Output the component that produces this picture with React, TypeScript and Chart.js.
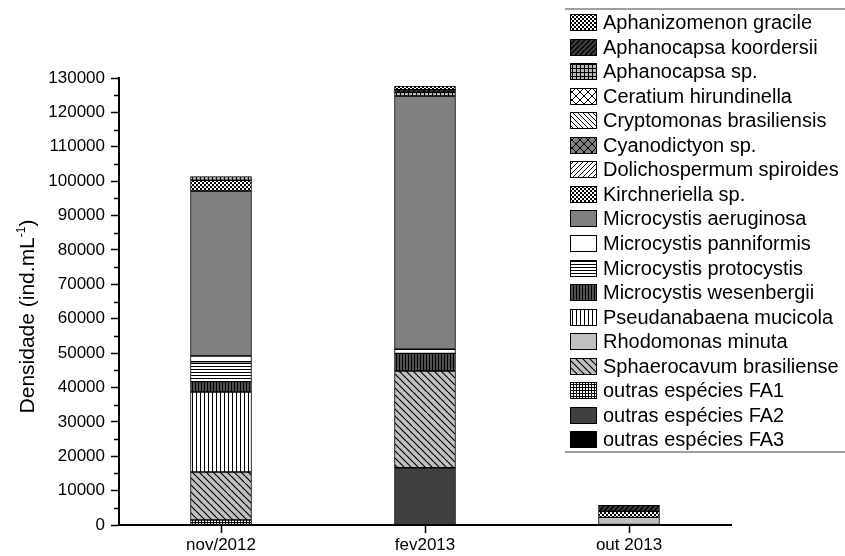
import React, { useEffect, useRef } from "react";
import { Chart, registerables } from "chart.js";

Chart.register(...registerables);

// ---------- DATA ----------
const categories = ["nov/2012", "fev2013", "out 2013"];

const yTickMin = 0;
const yTickMax = 130000;
const yTickStep = 10000;

// segment densities (ind.mL-1) per category
const aphanizomenonGracile = [null, 1070, null];
const aphanocapsaKoordersii = [null, 760, 1700];
const aphanocapsaSp = [1050, 1070, null];
const ceratiumHirundinella = [null, null, null];
const cryptomonasBrasiliensis = [null, null, null];
const cyanodictyonSp = [null, null, null];
const dolichospermumSpiroides = [null, null, null];
const kirchneriellaSp = [3120, null, 1800];
const microcystisAeruginosa = [47980, 73670, null];
const microcystisPanniformis = [1660, 1170, null];
const microcystisProtocystis = [5810, null, null];
const microcystisWesenbergii = [3000, 5140, null];
const pseudanabaenaMucicola = [23270, null, null];
const rhodomonasMinuta = [null, null, 2200];
const sphaerocavumBrasiliense = [13960, 28130, null];
const outrasFA1 = [1450, null, null];
const outrasFA2 = [null, 16660, null];
const outrasFA3 = [null, null, null];

// legend order (top to bottom); stacking is bottom-up in reverse
const legendLabels = [
  "Aphanizomenon gracile",
  "Aphanocapsa koordersii",
  "Aphanocapsa sp.",
  "Ceratium hirundinella",
  "Cryptomonas brasiliensis",
  "Cyanodictyon sp.",
  "Dolichospermum spiroides",
  "Kirchneriella sp.",
  "Microcystis aeruginosa",
  "Microcystis panniformis",
  "Microcystis protocystis",
  "Microcystis wesenbergii",
  "Pseudanabaena mucicola",
  "Rhodomonas minuta",
  "Sphaerocavum brasiliense",
  "outras espécies FA1",
  "outras espécies FA2",
  "outras espécies FA3",
];

const seriesValues = [
  aphanizomenonGracile,
  aphanocapsaKoordersii,
  aphanocapsaSp,
  ceratiumHirundinella,
  cryptomonasBrasiliensis,
  cyanodictyonSp,
  dolichospermumSpiroides,
  kirchneriellaSp,
  microcystisAeruginosa,
  microcystisPanniformis,
  microcystisProtocystis,
  microcystisWesenbergii,
  pseudanabaenaMucicola,
  rhodomonasMinuta,
  sphaerocavumBrasiliense,
  outrasFA1,
  outrasFA2,
  outrasFA3,
];

// ---------- PATTERNS ----------
type Drawer = (c: CanvasRenderingContext2D, s: number) => void;

function makePattern(bg: string, size: number, draw?: Drawer, lw = 1): CanvasPattern | string {
  const cv = document.createElement("canvas");
  cv.width = size;
  cv.height = size;
  const c = cv.getContext("2d")!;
  c.fillStyle = bg;
  c.fillRect(0, 0, size, size);
  if (draw) {
    c.strokeStyle = "#000";
    c.fillStyle = "#000";
    c.lineWidth = lw;
    draw(c, size);
  }
  const p = c.createPattern(cv, "repeat");
  return p || bg;
}

const fwd: Drawer = (c, s) => {
  c.beginPath();
  for (const k of [-s, 0, s]) {
    c.moveTo(k, s);
    c.lineTo(k + s, 0);
  }
  c.stroke();
};
const back: Drawer = (c, s) => {
  c.beginPath();
  for (const k of [-s, 0, s]) {
    c.moveTo(k, 0);
    c.lineTo(k + s, s);
  }
  c.stroke();
};
const cross: Drawer = (c, s) => {
  fwd(c, s);
  back(c, s);
};
const horiz: Drawer = (c, s) => {
  c.fillRect(0, 0, s, 1);
};
const vert: Drawer = (c, s) => {
  c.fillRect(0, 0, 1, s);
};
const grid: Drawer = (c, s) => {
  c.fillRect(0, 0, s, 1);
  c.fillRect(0, 0, 1, s);
};
const checker: Drawer = (c, s) => {
  const h = s / 2;
  c.fillRect(0, 0, h, h);
  c.fillRect(h, h, h, h);
};

function buildFills(): (CanvasPattern | string)[] {
  return [
    makePattern("#ffffff", 4, checker), // Aphanizomenon gracile
    makePattern("#404040", 5, fwd, 1.5), // Aphanocapsa koordersii
    makePattern("#b8b8b8", 4, grid), // Aphanocapsa sp.
    makePattern("#ffffff", 8, cross), // Ceratium
    makePattern("#ffffff", 5, back), // Cryptomonas
    makePattern("#808080", 8, cross), // Cyanodictyon
    makePattern("#ffffff", 5, fwd), // Dolichospermum
    makePattern("#ffffff", 4, checker), // Kirchneriella
    "#808080", // M. aeruginosa
    "#ffffff", // M. panniformis
    makePattern("#ffffff", 3, horiz), // M. protocystis
    makePattern("#505050", 3, vert), // M. wesenbergii
    makePattern("#ffffff", 4, vert), // Pseudanabaena
    "#c0c0c0", // Rhodomonas
    makePattern("#c0c0c0", 7, back, 1.2), // Sphaerocavum
    makePattern("#ffffff", 3, grid), // FA1
    "#404040", // FA2
    "#000000", // FA3
  ];
}

const FONT = '"Liberation Sans", Arial, sans-serif';

const overlayPlugin = {
  id: "overlay",
  afterDraw(chart: any) {
    const ctx: CanvasRenderingContext2D = chart.ctx;
    const y = chart.scales.y;
    const area = chart.chartArea;
    ctx.save();

    // minor y ticks
    ctx.strokeStyle = "#000";
    ctx.lineWidth = 1.5;
    ctx.beginPath();
    for (let v = yTickMin + yTickStep / 2; v < yTickMax; v += yTickStep) {
      const py = Math.round(y.getPixelForValue(v)) + 0.5;
      ctx.moveTo(area.left - 5, py);
      ctx.lineTo(area.left, py);
    }
    ctx.stroke();

    // y axis title with superscript
    ctx.save();
    ctx.translate(33.5, 316.5);
    ctx.rotate(-Math.PI / 2);
    ctx.fillStyle = "#000";
    ctx.textBaseline = "alphabetic";
    const main = "Densidade (ind.mL";
    const sup = "-1";
    const end = ")";
    ctx.font = `21px ${FONT}`;
    const wMain = ctx.measureText(main).width;
    const wEnd = ctx.measureText(end).width;
    ctx.font = `12px ${FONT}`;
    const wSup = ctx.measureText(sup).width;
    const total = wMain + wSup + wEnd;
    let x = -total / 2;
    ctx.font = `21px ${FONT}`;
    ctx.fillText(main, x, 0);
    x += wMain;
    ctx.font = `12px ${FONT}`;
    ctx.fillText(sup, x, -9);
    x += wSup;
    ctx.font = `21px ${FONT}`;
    ctx.fillText(end, x, 0);
    ctx.restore();

    // legend
    const lx = 570;
    const top = 14;
    const step = 24.55;
    ctx.strokeStyle = "#808080";
    ctx.lineWidth = 1.5;
    ctx.beginPath();
    ctx.moveTo(565, 9);
    ctx.lineTo(845, 9);
    ctx.moveTo(565, 452);
    ctx.lineTo(845, 452);
    ctx.stroke();
    ctx.font = `20px ${FONT}`;
    ctx.textBaseline = "middle";
    ctx.textAlign = "left";
    legendLabels.forEach((label, i) => {
      const ds = chart.data.datasets.find((d: any) => d.label === label);
      const py = Math.round(top + i * step);
      ctx.fillStyle = ds.backgroundColor;
      ctx.fillRect(lx, py, 26, 16);
      ctx.strokeStyle = "#000";
      ctx.lineWidth = 1;
      ctx.strokeRect(lx + 0.5, py + 0.5, 26, 16);
      ctx.fillStyle = "#000";
      ctx.fillText(label, 603, py + 9);
    });
    ctx.restore();
  },
};

export default function App() {
  const ref = useRef<HTMLCanvasElement>(null);

  useEffect(() => {
    if (!ref.current) return;
    const fills = buildFills();
    const datasets = legendLabels
      .map((label, i) => ({
        label,
        data: seriesValues[i],
        backgroundColor: fills[i],
        borderColor: "#000",
        borderWidth: 1,
        borderSkipped: false,
        barThickness: 61,
      }))
      .reverse();

    const chart = new Chart(ref.current, {
      type: "bar",
      data: { labels: categories, datasets: datasets as any },
      options: {
        animation: false,
        responsive: false,
        maintainAspectRatio: false,
        layout: { padding: { left: 0, top: 78, right: 114, bottom: 0 } },
        plugins: { legend: { display: false }, tooltip: { enabled: false } },
        scales: {
          x: {
            stacked: true,
            offset: true,
            grid: {
              offset: false,
              drawOnChartArea: false,
              drawTicks: true,
              tickLength: 8,
              tickColor: "#000",
              tickWidth: 1.5,
            },
            border: { display: true, color: "#000", width: 2 },
            ticks: { color: "#000", font: { family: FONT, size: 17 }, padding: 2, maxRotation: 0 },
            afterFit: (s: any) => {
              s.height = 31;
            },
          },
          y: {
            stacked: true,
            min: yTickMin,
            max: yTickMax,
            grid: {
              drawOnChartArea: false,
              drawTicks: true,
              tickLength: 8,
              tickColor: "#000",
              tickWidth: 1.5,
            },
            border: { display: true, color: "#000", width: 2 },
            ticks: {
              stepSize: yTickStep,
              color: "#000",
              font: { family: FONT, size: 17 },
              padding: 6,
              callback: (v: any) => String(v),
            },
            afterFit: (s: any) => {
              s.width = 119;
            },
          },
        },
      },
      plugins: [overlayPlugin],
    });
    return () => chart.destroy();
  }, []);

  return (
    <div style={{ position: "absolute", left: 0, top: 0, width: 845, height: 556 }}>
      <canvas ref={ref} width={845} height={556} style={{ display: "block" }} />
    </div>
  );
}
